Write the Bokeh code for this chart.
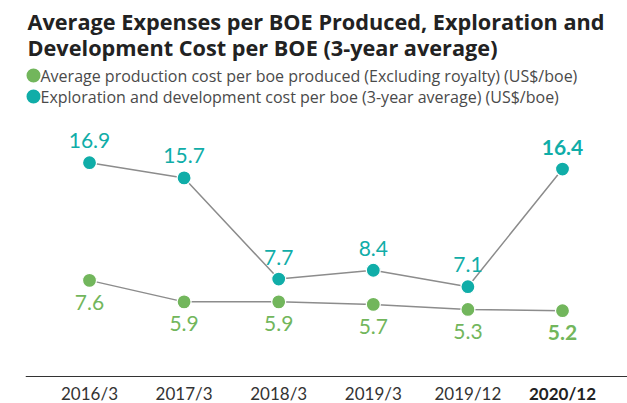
from bokeh.plotting import figure
from bokeh.models import Span, Range1d
from bokeh.core.properties import value
from bokeh.embed import file_html
from bokeh.resources import INLINE

categories = ["2016/3", "2017/3", "2018/3", "2019/3", "2019/12", "2020/12"]
production_cost = [7.6, 5.9, 5.9, 5.7, 5.3, 5.2]
exploration_cost = [16.9, 15.7, 7.7, 8.4, 7.1, 16.4]
title_lines = ["Average Expenses per BOE Produced, Exploration and",
               "Development Cost per BOE (3-year average)"]
legend_labels = ["Average production cost per boe produced (Excluding royalty) (US$/boe)",
                 "Exploration and development cost per boe (3-year average) (US$/boe)"]

TEAL = "#10ADA8"
GREEN = "#72B65C"
LINE = "#8C8C8C"
FONT = "Lato"

W, H = 627, 403
LEFT = 25
OFF = 0
# page-pixel -> data conversion
X0, XS = 89.0, 94.6
Y0, YS = 376.0, 12.65
def X(px):
    return (px - X0) / XS
def Y(py):
    return (Y0 - py) / YS

p = figure(width=W, height=H, output_backend="svg", toolbar_location=None,
           min_border_left=LEFT, min_border_right=0, min_border_top=0, min_border_bottom=0,
           x_range=Range1d(X(OFF + LEFT), X(OFF + W)), y_range=Range1d(Y(OFF + H), Y(OFF)))
p.xaxis.visible = False
p.yaxis.visible = False
p.grid.visible = False
p.outline_line_color = None
p.background_fill_color = "white"
p.border_fill_color = "white"

xs = list(range(len(categories)))
n = len(categories)

# axis baseline
p.add_layout(Span(location=0, dimension="width", line_color="#333333", line_width=1))

# lines
p.line(xs, exploration_cost, line_color=LINE, line_width=1.5)
p.line(xs, production_cost, line_color=LINE, line_width=1.5)
p.scatter(xs, exploration_cost, marker="circle", size=14, fill_color=TEAL,
          line_color="white", line_width=1.2)
p.scatter(xs, production_cost, marker="circle", size=14, fill_color=GREEN,
          line_color="white", line_width=1.2)

# data labels
reg = xs[:-1]
last = xs[-1:]
LBL = "21px"
p.text(reg, exploration_cost[:-1], text=[f"{v:.1f}" for v in exploration_cost[:-1]],
       y_offset=-22, text_align="center", text_baseline="middle",
       text_font=value(FONT), text_font_size=LBL, text_color=TEAL)
p.text(last, exploration_cost[-1:], text=[f"{v:.1f}" for v in exploration_cost[-1:]],
       y_offset=-22, text_align="center", text_baseline="middle",
       text_font=value(FONT), text_font_size=LBL, text_font_style="bold", text_color=TEAL)
p.text(reg, production_cost[:-1], text=[f"{v:.1f}" for v in production_cost[:-1]],
       y_offset=22, text_align="center", text_baseline="middle",
       text_font=value(FONT), text_font_size=LBL, text_color=GREEN)
p.text(last, production_cost[-1:], text=[f"{v:.1f}" for v in production_cost[-1:]],
       y_offset=22, text_align="center", text_baseline="middle",
       text_font=value(FONT), text_font_size=LBL, text_font_style="bold", text_color=GREEN)

# category tick labels
p.text(reg, [Y(393)] * (n - 1), text=categories[:-1], text_align="center",
       text_baseline="middle", text_font=value(FONT), text_font_size="17px",
       text_color="#333333")
p.text(last, [Y(393)], text=categories[-1:], text_align="center",
       text_baseline="middle", text_font=value(FONT), text_font_size="17px",
       text_font_style="bold", text_color="#222222")

# title
p.text([X(27)] * 2, [Y(21), Y(47)], text=title_lines, text_align="left",
       text_baseline="middle", text_font=value("Open Sans"), text_font_size="21.7px",
       text_font_style="bold", text_color="#222222")

# legend
p.scatter([X(33)] * 2, [Y(75), Y(96)], marker="circle", size=14,
          fill_color=[GREEN, TEAL], line_color=None)
p.text([X(40)] * 2, [Y(75), Y(96)], text=legend_labels, text_align="left",
       text_baseline="middle", text_font=value("Open Sans"), text_font_size="16px",
       text_color="#4a4a4a")

open("out.html", "w").write(file_html(p, INLINE))
